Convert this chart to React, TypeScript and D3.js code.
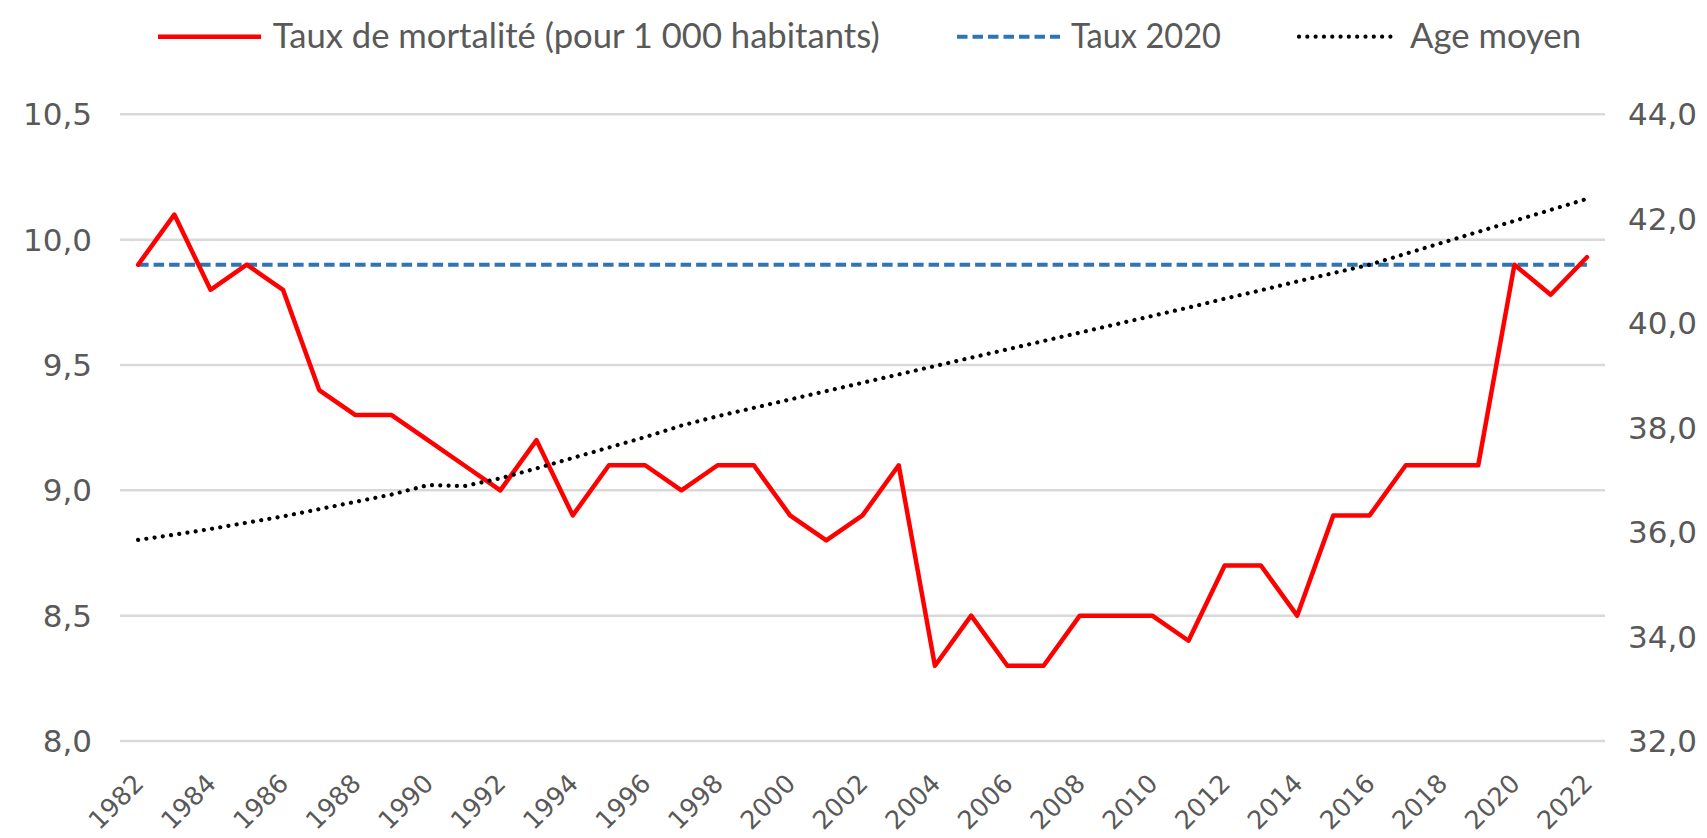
import React from "react";
import * as d3 from "d3";

const years = [1982,1983,1984,1985,1986,1987,1988,1989,1990,1991,1992,1993,1994,1995,1996,1997,1998,1999,2000,2001,2002,2003,2004,2005,2006,2007,2008,2009,2010,2011,2012,2013,2014,2015,2016,2017,2018,2019,2020,2021,2022];
const mortalite = [9.9,10.1,9.8,9.9,9.8,9.4,9.3,9.3,9.2,9.1,9.0,9.2,8.9,9.1,9.1,9.0,9.1,9.1,8.9,8.8,8.9,9.1,8.3,8.5,8.3,8.3,8.5,8.5,8.5,8.4,8.7,8.7,8.5,8.9,8.9,9.1,9.1,9.1,9.9,9.78,9.93];
const taux2020 = [9.9,9.9,9.9,9.9,9.9,9.9,9.9,9.9,9.9,9.9,9.9,9.9,9.9,9.9,9.9,9.9,9.9,9.9,9.9,9.9,9.9,9.9,9.9,9.9,9.9,9.9,9.9,9.9,9.9,9.9,9.9,9.9,9.9,9.9,9.9,9.9,9.9,9.9,9.9,9.9,9.9];
const ageMoyen = [35.85,35.95,36.06,36.18,36.3,36.44,36.58,36.72,36.9,36.88,37.03,37.22,37.42,37.62,37.82,38.04,38.22,38.38,38.54,38.7,38.86,39.02,39.18,39.34,39.5,39.66,39.82,39.98,40.14,40.3,40.47,40.63,40.8,40.96,41.12,41.33,41.54,41.75,41.96,42.17,42.38];
const leftTicks = [8.0, 8.5, 9.0, 9.5, 10.0, 10.5];
const rightTicks = [32, 34, 36, 38, 40, 42, 44];
const xTickYears = [1982,1984,1986,1988,1990,1992,1994,1996,1998,2000,2002,2004,2006,2008,2010,2012,2014,2016,2018,2020,2022];
const legendLabels = ["Taux de mortalité (pour 1 000 habitants)", "Taux 2020", "Age moyen"];

const W = 1707, H = 838;
const plot = { left: 120, right: 1605, top: 114.3, bottom: 741 };
const TXT = "#595959";
const tickFont = "'DejaVu Sans', Verdana, sans-serif";
const legendFont = "Lato, 'Open Sans', sans-serif";

const fmt = (v: number) => d3.format(".1f")(v).replace(".", ",");

export default function App() {
  const x = d3.scalePoint<number>().domain(years).range([plot.left, plot.right]).padding(0.5);
  const yL = d3.scaleLinear().domain([8, 10.5]).range([plot.bottom, plot.top]);
  const yR = d3.scaleLinear().domain([32, 44]).range([plot.bottom, plot.top]);

  const lineL = d3.line<number>().x((_, i) => x(years[i])!).y((d) => yL(d));
  const lineR = d3.line<number>().x((_, i) => x(years[i])!).y((d) => yR(d));

  const legY = 36.7;
  const legBase = 47.5;

  return (
    <svg width={W} height={H} style={{ position: "absolute", left: 0, top: 0, background: "#fff" }}>
      <rect x={0} y={0} width={W} height={H} fill="#fff" />
      {leftTicks.map((t) => (
        <line key={"g" + t} x1={plot.left} x2={plot.right} y1={yL(t)} y2={yL(t)} stroke="#D9D9D9" strokeWidth={2.5} />
      ))}
      {leftTicks.map((t) => (
        <text key={"l" + t} x={92} y={yL(t)} textAnchor="end" dominantBaseline="central" fontFamily={tickFont} fontSize={31} fill={TXT}>
          {fmt(t)}
        </text>
      ))}
      {rightTicks.map((t) => (
        <text key={"r" + t} x={1628} y={yR(t)} textAnchor="start" dominantBaseline="central" fontFamily={tickFont} fontSize={31} fill={TXT}>
          {fmt(t)}
        </text>
      ))}
      {xTickYears.map((yr) => {
        const ax = x(yr)! + 7;
        const ay = 785;
        return (
          <text key={"x" + yr} x={ax} y={ay} transform={`rotate(-45 ${ax} ${ay})`} textAnchor="end" fontFamily={tickFont} fontSize={25.5} fill={TXT}>
            {yr}
          </text>
        );
      })}
      <path d={lineL(taux2020)!} fill="none" stroke="#2E75B6" strokeWidth={4} strokeDasharray="10.5 5" />
      <path d={lineL(mortalite)!} fill="none" stroke="#FF0000" strokeWidth={4.5} strokeLinejoin="round" strokeLinecap="round" />
      <path d={lineR(ageMoyen)!} fill="none" stroke="#000" strokeWidth={4.2} strokeDasharray="0.01 8.3" strokeLinecap="round" />

      {/* legend */}
      <line x1={158} x2={261} y1={legY} y2={legY} stroke="#FF0000" strokeWidth={4.5} />
      <text x={272.7} y={legBase} fontFamily={legendFont} fontSize={34} fill={TXT} textLength={607} lengthAdjust="spacingAndGlyphs">
        {legendLabels[0]}
      </text>
      <line x1={957} x2={1060} y1={legY} y2={legY} stroke="#2E75B6" strokeWidth={4} strokeDasharray="10.5 5" />
      <text x={1071} y={legBase} fontFamily={legendFont} fontSize={34} fill={TXT} textLength={150} lengthAdjust="spacingAndGlyphs">
        {legendLabels[1]}
      </text>
      <line x1={1299} x2={1391} y1={legY} y2={legY} stroke="#000" strokeWidth={4.2} strokeDasharray="0.01 8.3" strokeLinecap="round" />
      <text x={1410} y={legBase} fontFamily={legendFont} fontSize={34} fill={TXT} textLength={171} lengthAdjust="spacingAndGlyphs">
        {legendLabels[2]}
      </text>
    </svg>
  );
}
